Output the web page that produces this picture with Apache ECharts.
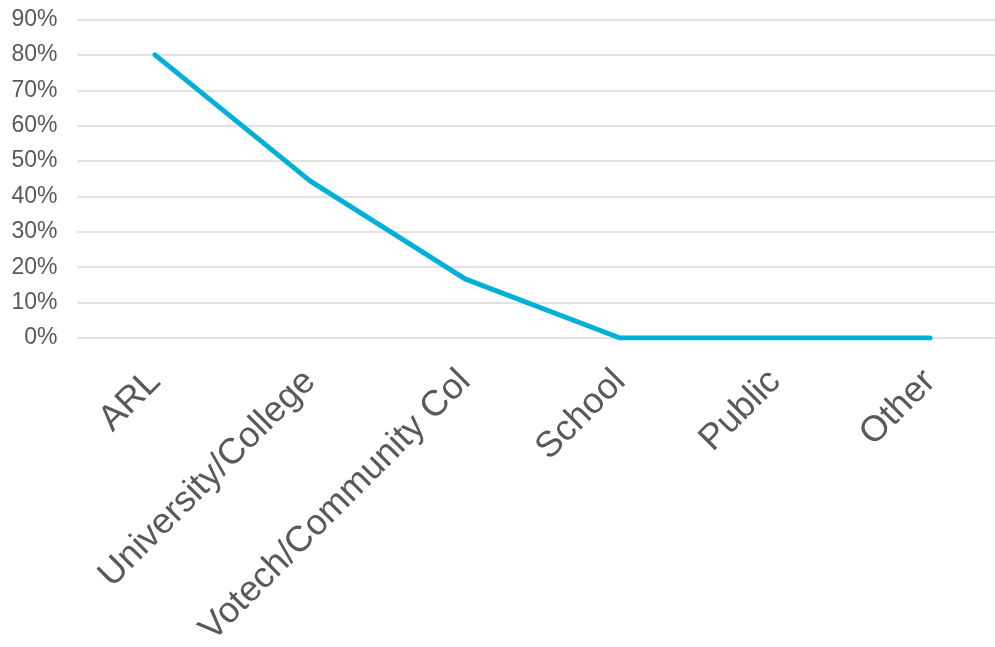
<!DOCTYPE html>
<html>
<head>
<meta charset="utf-8">
<script src="https://cdn.jsdelivr.net/npm/echarts@6/dist/echarts.min.js"></script>
<style>
  html, body { margin: 0; padding: 0; background: #ffffff; }
  #chart { width: 995px; height: 647px; }
</style>
</head>
<body>
<div id="chart"></div>
<script>
// Share of respondents by institution type
const categories = ['ARL', 'University/College', 'Votech/Community Col', 'School', 'Public', 'Other'];
const shares = [0.80, 0.444, 0.167, 0, 0, 0];
const yMax = 0.9;
const yStep = 0.1;

const chart = echarts.init(document.getElementById('chart'), null, { renderer: 'canvas' });

chart.setOption({
  animation: false,
  backgroundColor: '#ffffff',
  grid: {
    left: 77.5, top: 19.5, width: 930, bottom: 309,
    containLabel: false,
    outerBoundsMode: 'none'
  },
  xAxis: {
    type: 'category',
    data: categories,
    boundaryGap: true,
    axisLine: { show: false },
    axisTick: { show: false },
    axisLabel: {
      rotate: 45,
      interval: 0,
      margin: 38,
      color: '#595959',
      fontFamily: 'Liberation Sans, Arial, sans-serif',
      fontSize: 36
    }
  },
  yAxis: {
    type: 'value',
    min: 0,
    max: yMax,
    interval: yStep,
    axisLine: { show: false },
    axisTick: { show: false },
    splitLine: { lineStyle: { color: '#d9d9d9', width: 1.5 } },
    axisLabel: {
      margin: 20,
      color: '#595959',
      fontFamily: 'Liberation Sans, Arial, sans-serif',
      fontSize: 23,
      formatter: v => Math.round(v * 100) + '%'
    }
  },
  series: [{
    type: 'line',
    data: shares,
    symbol: 'none',
    lineStyle: { color: '#00b0d8', width: 5, cap: 'round', join: 'round' }
  }]
});
</script>
</body>
</html>
